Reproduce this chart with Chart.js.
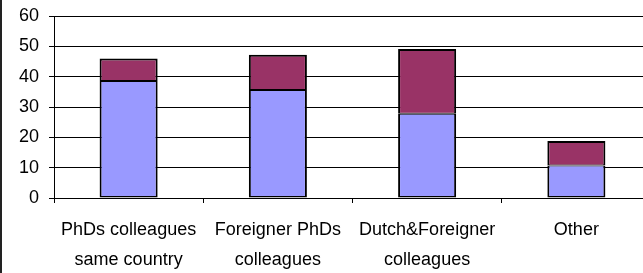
<!DOCTYPE html>
<html>
<head>
<meta charset="utf-8">
<script src="https://cdn.jsdelivr.net/npm/chart.js@4"></script>
<style>
  html, body { margin: 0; padding: 0; background: #fff; overflow: hidden; }
  #wrap { position: relative; width: 643px; height: 273px; overflow: hidden; }
  #frame { position: absolute; left: 0; top: 0; width: 2px; height: 273px; background: #222; }
  canvas { position: absolute; left: 0; top: 0; }
</style>
</head>
<body>
<div id="wrap">
  <canvas id="chart" width="660" height="273"></canvas>
  <div id="frame"></div>
</div>
<script>
// categories + the two stacked series
const categories = [
  ["PhDs colleagues", "same country"],
  ["Foreigner PhDs", "colleagues"],
  ["Dutch&Foreigner", "colleagues"],
  "Other"
];
const lowerPart = [38.6, 35.6, 27.8, 10.7];
const upperPart = [7.4, 11.6, 21.3, 8.1];
const yTicks = [0, 10, 20, 30, 40, 50, 60];

const font = { family: "'Liberation Sans', Arial, sans-serif", size: 18 };

const ctx = document.getElementById("chart").getContext("2d");
new Chart(ctx, {
  type: "bar",
  data: {
    labels: categories,
    datasets: [
      {
        label: "lower",
        data: lowerPart,
        backgroundColor: "#9999FF",
        borderColor: "#000",
        borderWidth: { top: 1, left: 2, right: 2, bottom: 1.5 },
        borderSkipped: false
      },
      {
        label: "upper",
        data: upperPart,
        backgroundColor: "#993366",
        borderColor: "#000",
        borderWidth: { top: 2, left: 2, right: 2, bottom: 1 },
        borderSkipped: false
      }
    ]
  },
  options: {
    responsive: false,
    animation: false,
    events: [],
    layout: { padding: { top: 16, right: 9, left: 0, bottom: 0 } },
    plugins: { legend: { display: false }, tooltip: { enabled: false } },
    datasets: { bar: { categoryPercentage: 1, barPercentage: 0.389 } },
    scales: {
      x: {
        stacked: true,
        grid: { display: true, drawOnChartArea: false, offset: true, color: "#000", tickLength: 5 },
        border: { display: true, color: "#000", width: 1 },
        ticks: { color: "#000", font: { ...font, lineHeight: 1.67 }, padding: 12, maxRotation: 0, autoSkip: false },
        afterFit: (s) => { s.height = 75; }
      },
      y: {
        stacked: true,
        min: 0,
        max: 60,
        afterBuildTicks: (s) => { s.ticks = yTicks.map(v => ({ value: v })); },
        grid: { color: "#000", lineWidth: 1, tickLength: 5 },
        border: { display: true, color: "#000", width: 1 },
        ticks: { color: "#000", font: { ...font, lineHeight: 0.6 }, padding: 10 },
        afterFit: (s) => { s.width = 54; }
      }
    }
  }
});
</script>
</body>
</html>
